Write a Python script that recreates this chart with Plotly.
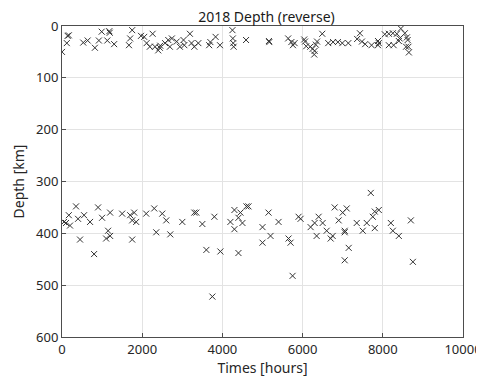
import plotly.graph_objects as go

# Shallow events (hours, depth km)
shallow_hours = [0, 140, 170, 120, 530, 640, 820, 920, 990, 1180, 1190, 1130, 1300, 1700, 1670, 1750,
                 1970, 2050, 2260, 2110, 2190, 2320, 2440, 2400, 2450, 2570, 2650, 2740, 2690, 2860, 2940,
                 3030, 3190, 3050, 3230, 3300, 3400, 3670, 3700, 3830, 3940, 4250, 4260, 4270, 4280,
                 4590, 5160, 5170, 5640, 5720, 5760, 5800, 6040, 6090, 6060, 6190, 6250, 6300, 6330,
                 6360, 6290, 6490, 6640, 6760, 6880, 6990, 7140, 7360, 7430, 7480, 7560, 7720, 7880,
                 7900, 7880, 8050, 8150, 8250, 8350, 8450, 8550, 8150, 8270, 8400, 8420, 8600, 8620,
                 8580, 8640, 8650]
shallow_depth = [50, 19, 18, 33, 32, 28, 42, 28, 11, 10, 13, 28, 35, 24, 37, 8,
                 19, 21, 15, 33, 40, 40, 42, 47, 38, 33, 27, 24, 40, 30, 40,
                 27, 15, 37, 33, 40, 33, 37, 31, 21, 37, 8, 24, 33, 40,
                 27, 29, 31, 24, 31, 37, 33, 26, 39, 30, 40, 44, 48, 36,
                 30, 55, 15, 33, 31, 31, 33, 33, 25, 14, 30, 35, 37, 29,
                 33, 37, 16, 15, 14, 15, 5, 14, 37, 37, 29, 24, 22, 27,
                 40, 40, 51]

# Deep events (hours, depth km)
deep_hours = [50, 100, 170, 200, 350, 400, 450, 550, 700, 800, 900, 1000, 1100, 1150, 1200, 1200,
              1500, 1700, 1750, 1750, 1800, 1850, 2100, 2300, 2350, 2500, 2600, 2700, 3000, 3300,
              3350, 3500, 3600, 3750, 3800, 3950, 4200, 4300, 4300, 4400, 4400, 4450, 4500, 4600,
              4650, 5000, 5000, 5150, 5200, 5400, 5650, 5700, 5750, 5900, 5950, 6200, 6300, 6350,
              6400, 6500, 6600, 6700, 6750, 6800, 6900, 7000, 7050, 7050, 7050, 7100, 7150, 7350,
              7500, 7600, 7700, 7750, 7800, 7800, 7900, 8200, 8250, 8400, 8700, 8750]
deep_depth = [378, 380, 365, 385, 348, 372, 412, 365, 378, 440, 350, 370, 410, 395, 360, 405,
              362, 365, 375, 412, 360, 378, 362, 352, 398, 362, 375, 402, 378, 360,
              360, 382, 432, 522, 368, 435, 378, 355, 392, 438, 370, 360, 380, 348,
              348, 388, 418, 360, 405, 378, 410, 418, 482, 368, 372, 388, 380, 405,
              368, 380, 395, 410, 405, 350, 375, 360, 395, 452, 398, 352, 428, 380,
              395, 380, 322, 368, 358, 390, 355, 380, 395, 405, 375, 455]

x_ticks = [0, 2000, 4000, 6000, 8000, 10000]
y_ticks = [0, 100, 200, 300, 400, 500, 600]

FONT = "Noto Sans"

fig = go.Figure()
fig.add_trace(go.Scatter(
    x=shallow_hours + deep_hours, y=shallow_depth + deep_depth, mode="markers",
    marker=dict(symbol="x-thin", size=6, line=dict(width=1, color="#333333")),
    showlegend=False,
))

axis_common = dict(
    showline=True, linecolor="#4d4d4d", linewidth=1, mirror=True,
    showgrid=True, gridcolor="#e3e3e3", gridwidth=1,
    ticks="inside", ticklen=4, tickcolor="#4d4d4d",
    tickfont=dict(family=FONT, size=13, color="#262626"),
    zeroline=False, automargin=False,
)

fig.update_layout(
    width=476, height=375,
    margin=dict(l=54, r=21, t=18, b=46),
    paper_bgcolor="white", plot_bgcolor="white",
    font=dict(family=FONT, color="#262626"),
    title=dict(text="2018 Depth (reverse)", x=0.543, xanchor="center", y=0.977, yanchor="middle",
               font=dict(family=FONT, size=14, color="#1a1a1a")),
    xaxis=dict(range=[0, 10000], tickvals=x_ticks, ticktext=[str(v) for v in x_ticks],
               title=dict(text="Times [hours]", font=dict(family=FONT, size=14), standoff=5),
               **axis_common),
    yaxis=dict(range=[600, 0], tickvals=y_ticks, ticktext=[str(v) for v in y_ticks],
               title=dict(text="Depth [km]", font=dict(family=FONT, size=14), standoff=8),
               **axis_common),
)

fig.write_html("out.html")
